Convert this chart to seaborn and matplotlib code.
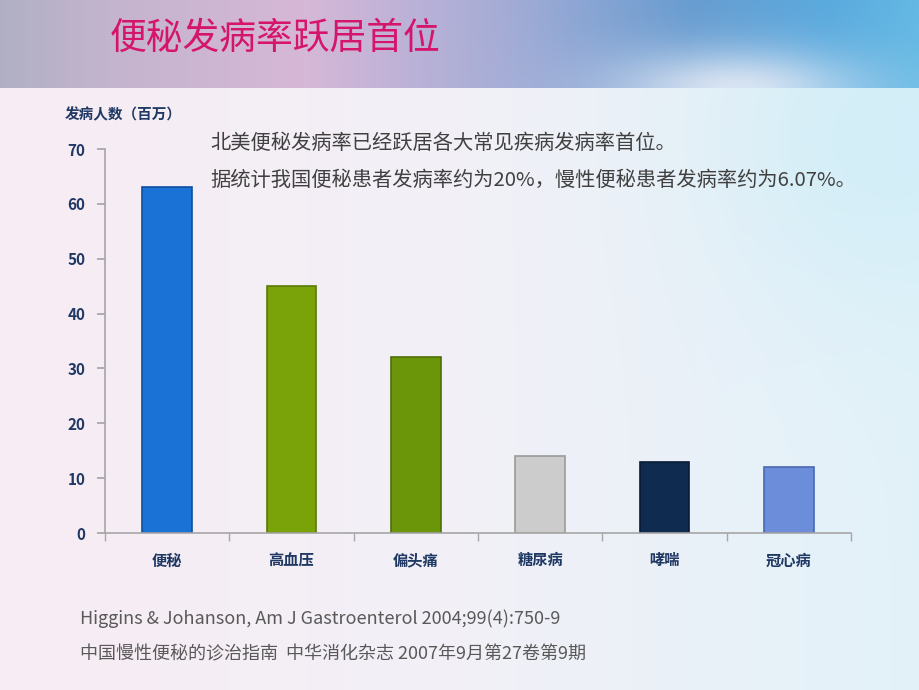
import numpy as np
import pandas as pd
import matplotlib
matplotlib.use("Agg")
import matplotlib.pyplot as plt
import seaborn as sns

categories = ["便秘", "高血压", "偏头痛", "糖尿病", "哮喘", "冠心病"]
values = [63, 45, 32, 14, 13, 12]
bar_colors = ["#1A72D6", "#7AA30A", "#6C960A", "#CCCCCC", "#0F2B50", "#6B8DDA"]
edge_colors = ["#0E4E9C", "#5A7A06", "#4E6E06", "#9A9A9A", "#081A34", "#4A68B0"]
yticks = [0, 10, 20, 30, 40, 50, 60, 70]

title = "便秘发病率跃居首位"
ylabel = "发病人数（百万）"
note1 = "北美便秘发病率已经跃居各大常见疾病发病率首位。"
note2 = "据统计我国便秘患者发病率约为20%，慢性便秘患者发病率约为6.07%。"
ref1 = "Higgins & Johanson, Am J Gastroenterol 2004;99(4):750-9"
ref2 = "中国慢性便秘的诊治指南  中华消化杂志 2007年9月第27卷第9期"

sns.set_theme(style="white")
plt.rcParams['font.family'] = ['Noto Sans CJK SC', 'DejaVu Sans']

W, H = 920, 690
fig = plt.figure(figsize=(9.2, 6.9), dpi=100)

# background
bg = fig.add_axes([0, 0, 1, 1], zorder=-10)
xs = np.linspace(0, 1, W)
ys = np.linspace(0, 1, H)
X, Y = np.meshgrid(xs, ys)
left_c = np.array([248, 236, 243]) / 255
mid_c = np.array([242, 240, 247]) / 255
right_c = np.array([226, 242, 249]) / 255
t = X[..., None]
body = np.where(t < 0.5, left_c + (mid_c - left_c) * (t / 0.5),
                mid_c + (right_c - mid_c) * ((t - 0.5) / 0.5))
glow = np.exp(-(((X - 0.95) / 0.18) ** 2 + ((Y - 0.2) / 0.25) ** 2))[..., None]
body = body * (1 - 0.5 * glow) + np.array([195, 235, 247]) / 255 * 0.5 * glow
band_h = 88 / H
stops_x = np.array([0, 0.12, 0.33, 0.55, 0.75, 0.9, 1.0])
stops_c = np.array([[176, 176, 196], [196, 180, 206], [214, 184, 214], [164, 172, 214],
                    [104, 156, 208], [90, 170, 222], [100, 185, 228]]) / 255
band_row = np.stack([np.interp(xs, stops_x, stops_c[:, k]) for k in range(3)], axis=-1)
band = np.broadcast_to(band_row, (H, W, 3)).copy()
cloud = np.exp(-(((X - 0.8) / 0.14) ** 2 + ((Y - 0.13) / 0.06) ** 2))[..., None]
band = band * (1 - 0.85 * cloud) + 0.85 * cloud * np.array([238, 240, 248]) / 255
img = np.where((Y < band_h)[..., None], band, body)
bg.imshow(img, aspect='auto', extent=[0, 1, 0, 1], origin='upper')
bg.set_axis_off()

# main chart
ax = fig.add_axes([105 / W, 1 - 533 / H, (851 - 105) / W, (533 - 149) / H])
ax.set_facecolor("none")
df = pd.DataFrame({"cat": categories, "val": values})
sns.barplot(data=df, x="cat", y="val", hue="cat", palette=bar_colors, legend=False,
            width=0.4, ax=ax, saturation=1)
for p, ec in zip(ax.patches, edge_colors):
    p.set_edgecolor(ec)
    p.set_linewidth(1.2)
ax.set_xlim(-0.5, len(categories) - 0.5)
ax.set_ylim(0, 70)
ax.set_yticks(yticks)
ax.set_xlabel("")
ax.set_ylabel("")
for s in ["top", "right"]:
    ax.spines[s].set_visible(False)
for s in ["left", "bottom"]:
    ax.spines[s].set_color("#A6A6A6")
    ax.spines[s].set_linewidth(1.2)
ax.tick_params(axis='y', which='major', left=True, length=6, color="#A6A6A6",
               labelsize=11, labelcolor="#1F3864", pad=8)
ax.tick_params(axis='x', which='major', bottom=False, length=0,
               labelsize=11, labelcolor="#1F3864", pad=14)
ax.set_xticks(np.arange(-0.5, len(categories)), minor=True)
ax.tick_params(axis='x', which='minor', bottom=True, length=6, color="#A6A6A6", width=1)
for lab in ax.get_yticklabels() + ax.get_xticklabels():
    lab.set_fontweight("bold")

# texts
fig.text(110 / W, 1 - 38 / H, title, fontsize=26.5, color="#D5156B", va="center", ha="left")
fig.text(65 / W, 1 - 114 / H, ylabel, fontsize=10.5, color="#1F3864", fontweight="bold",
         va="center", ha="left")
fig.text(210 / W, 1 - 143 / H, note1, fontsize=14.6, color="#404040", va="center", ha="left")
fig.text(210 / W, 1 - 180 / H, note2, fontsize=14.6, color="#404040", va="center", ha="left")
fig.text(80 / W, 1 - 619 / H, ref1, fontsize=13, color="#595959", va="center", ha="left")
fig.text(80 / W, 1 - 654 / H, ref2, fontsize=13, color="#595959", va="center", ha="left")

fig.savefig("out.png", dpi=100)
